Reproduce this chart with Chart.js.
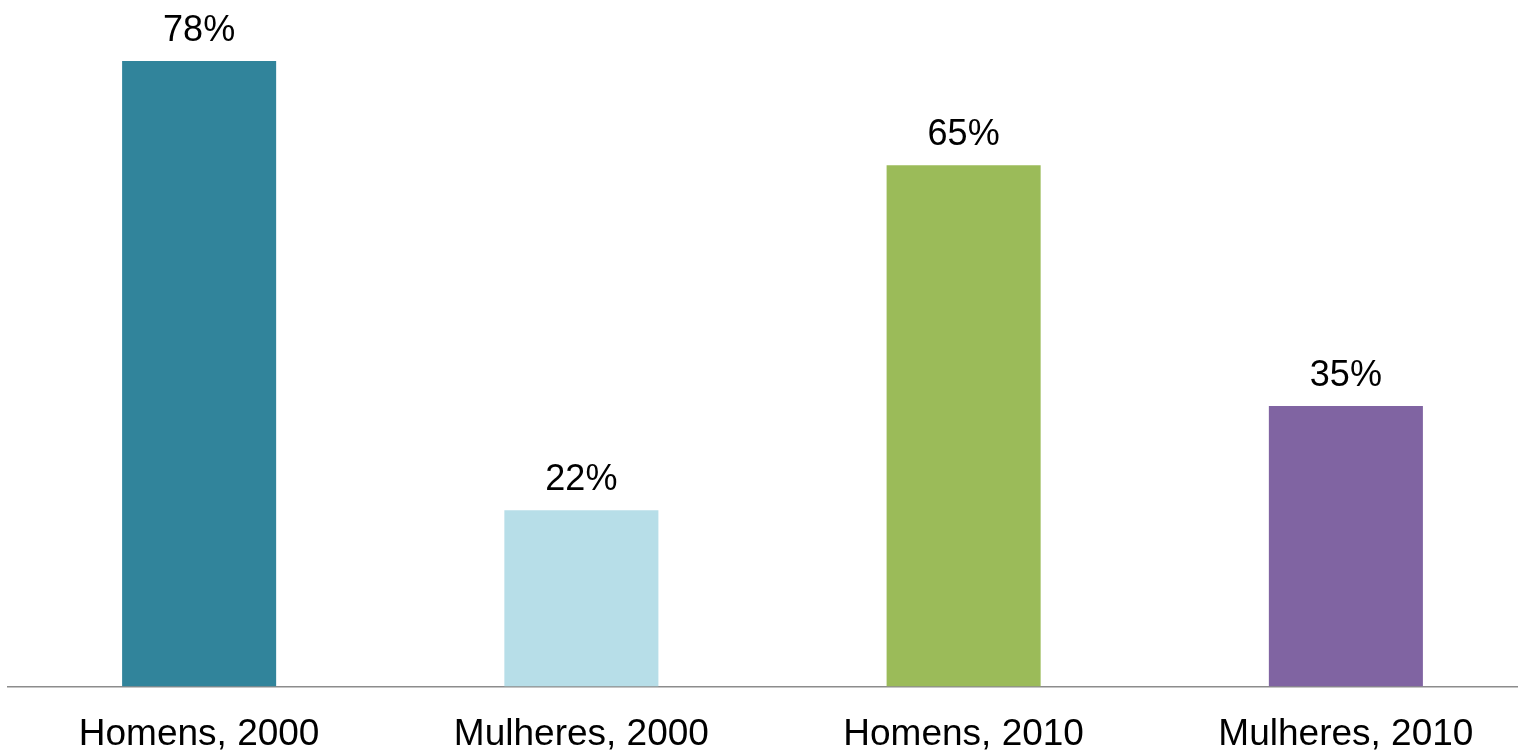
<!DOCTYPE html>
<html>
<head>
<meta charset="utf-8">
<script src="https://cdn.jsdelivr.net/npm/chart.js@4/dist/chart.umd.min.js"></script>
<style>
    html, body { margin: 0; padding: 0; background: #fff; overflow: hidden; }
    #wrap { position: relative; width: 1537px; height: 785px; }
</style>
</head>
<body>
<div id="wrap"><canvas id="barChart"></canvas></div>
<script>
var categories = ["Homens, 2000", "Mulheres, 2000", "Homens, 2010", "Mulheres, 2010"];
var values = [78, 22, 65, 35];
var barColors = ["#31849B", "#B7DEE8", "#9BBB59", "#8064A2"];

// rótulos em cima das barras
var valueLabels = {
    id: "valueLabels",
    afterDatasetsDraw: function (chart) {
        var ctx = chart.ctx;
        var meta = chart.getDatasetMeta(0);
        ctx.save();
        ctx.font = "36px 'Liberation Sans', Arial, sans-serif";
        ctx.fillStyle = "#000";
        ctx.textAlign = "center";
        ctx.textBaseline = "alphabetic";
        meta.data.forEach(function (bar, i) {
            ctx.fillText(values[i] + "%", bar.x, bar.y - 20);
        });
        ctx.restore();
    }
};

var ctx = document.getElementById("barChart").getContext("2d");
var myChart = new Chart(ctx, {
    type: "bar",
    data: {
        labels: categories,
        datasets: [
            {
                data: values,
                backgroundColor: barColors,
                borderWidth: 0,
                categoryPercentage: 1,
                barPercentage: 0.403
            }
        ]
    },
    options: {
        responsive: true,
        maintainAspectRatio: false,
        animation: false,
        layout: { padding: { top: 45, left: 8, right: 0, bottom: 2 } },
        plugins: {
            legend: { display: false },
            tooltip: { enabled: false }
        },
        scales: {
            x: {
                grid: { display: false, drawTicks: false },
                border: { display: true, color: "#8c8c8c", width: 1.5 },
                ticks: {
                    color: "#000",
                    padding: 26,
                    font: { family: "'Liberation Sans', Arial, sans-serif", size: 37 }
                }
            },
            y: {
                display: false,
                min: 0,
                max: 80
            }
        }
    },
    plugins: [valueLabels]
});
</script>
</body>
</html>
